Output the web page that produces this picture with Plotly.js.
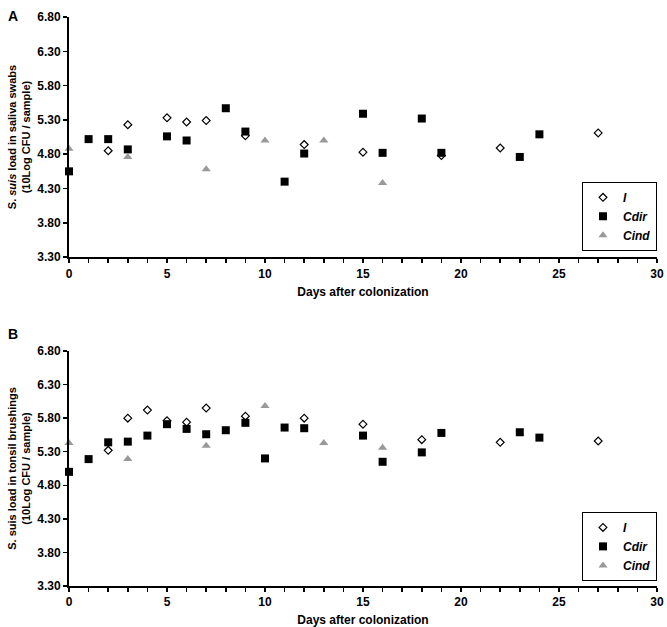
<!DOCTYPE html>
<html>
<head>
<meta charset="utf-8">
<script src="https://cdn.plot.ly/plotly-3.0.1.min.js"></script>
<style>html,body{margin:0;padding:0;background:#fff;}#chart{width:667px;height:627px;}</style>
</head>
<body>
<div id="chart"></div>
<script>
// Panel A: saliva swabs
const aI_days  = [2, 3, 5, 6, 7, 9, 12, 15, 19, 22, 27];
const aI_vals  = [4.85, 5.23, 5.33, 5.27, 5.29, 5.07, 4.94, 4.83, 4.78, 4.89, 5.11];
const aCdir_days = [0, 1, 2, 3, 5, 6, 8, 9, 11, 12, 15, 16, 18, 19, 23, 24];
const aCdir_vals = [4.55, 5.02, 5.02, 4.87, 5.06, 5.00, 5.47, 5.13, 4.40, 4.81, 5.39, 4.82, 5.32, 4.82, 4.76, 5.09];
const aCind_days = [0, 3, 7, 10, 13, 16];
const aCind_vals = [4.88, 4.76, 4.58, 5.00, 5.00, 4.38];
// Panel B: tonsil brushings
const bI_days  = [2, 3, 4, 5, 6, 7, 9, 12, 15, 18, 22, 27];
const bI_vals  = [5.32, 5.80, 5.92, 5.76, 5.74, 5.95, 5.83, 5.80, 5.71, 5.48, 5.44, 5.46];
const bCdir_days = [0, 1, 2, 3, 4, 5, 6, 7, 8, 9, 10, 11, 12, 15, 16, 18, 19, 23, 24];
const bCdir_vals = [5.00, 5.19, 5.44, 5.45, 5.54, 5.71, 5.64, 5.56, 5.62, 5.73, 5.20, 5.66, 5.65, 5.54, 5.15, 5.29, 5.58, 5.59, 5.51];
const bCind_days = [0, 3, 7, 10, 13, 16];
const bCind_vals = [5.43, 5.19, 5.39, 5.98, 5.43, 5.36];

const yTickVals = [3.3, 3.8, 4.3, 4.8, 5.3, 5.8, 6.3, 6.8];
const seriesNames = ['<i>I</i>', '<i>Cdir</i>', '<i>Cind</i>'];

const FONT = 'Liberation Sans, Arial, sans-serif';
const mI = {symbol: 'diamond-open', size: 6, color: '#000', line: {width: 1.2, color: '#000'}};
const mC = {symbol: 'square', size: 8, color: '#000'};
const mN = {symbol: 'triangle-up', size: 8, color: '#999'};

function tr(x, y, name, marker, xa, ya, leg) {
  return {x: x, y: y, name: name, type: 'scatter', mode: 'markers', marker: marker,
          xaxis: xa, yaxis: ya, legend: leg, cliponaxis: false};
}

const data = [
  tr(aI_days, aI_vals, seriesNames[0], mI, 'x', 'y', 'legend'),
  tr(aCdir_days, aCdir_vals, seriesNames[1], mC, 'x', 'y', 'legend'),
  tr(aCind_days, aCind_vals, seriesNames[2], mN, 'x', 'y', 'legend'),
  tr(bI_days, bI_vals, seriesNames[0], mI, 'x2', 'y2', 'legend2'),
  tr(bCdir_days, bCdir_vals, seriesNames[1], mC, 'x2', 'y2', 'legend2'),
  tr(bCind_days, bCind_vals, seriesNames[2], mN, 'x2', 'y2', 'legend2')
];

function xax(anchor) {
  return {
    anchor: anchor, range: [0, 30], dtick: 5, tick0: 0,
    showgrid: false, zeroline: false, showline: true, linecolor: '#000', linewidth: 2,
    ticks: 'outside', ticklen: 4, tickwidth: 1.5, tickcolor: '#000',
    minor: {dtick: 1, ticks: 'outside', ticklen: 4, tickwidth: 1.5, tickcolor: '#000', showgrid: false},
    tickfont: {family: FONT, size: 12, color: '#000', weight: 'bold'},
    title: {text: 'Days after colonization', font: {family: FONT, size: 12, color: '#000', weight: 'bold'}, standoff: 8}
  };
}
function yax(anchor, domain, title) {
  return {
    anchor: anchor, domain: domain, range: [3.3, 6.8],
    tickvals: yTickVals, ticktext: yTickVals.map(v => v.toFixed(2)),
    showgrid: false, zeroline: false, showline: true, linecolor: '#000', linewidth: 2,
    ticks: 'outside', ticklen: 4, tickwidth: 1.5, tickcolor: '#000',
    tickfont: {family: FONT, size: 12, color: '#000', weight: 'bold'},
    title: {text: title, font: {family: FONT, size: 11, color: '#000', weight: 'bold'}, standoff: 4}
  };
}
function leg(y) {
  return {x: 1, xanchor: 'right', y: y, yanchor: 'bottom', xref: 'paper', yref: 'paper',
          bgcolor: '#fff', bordercolor: '#000', borderwidth: 1,
          font: {family: FONT, size: 12, color: '#000', weight: 'bold'},
          tracegroupgap: 0, itemwidth: 30};
}

const layout = {
  width: 667, height: 627,
  margin: {l: 69, r: 10, t: 17, b: 41},
  paper_bgcolor: '#fff', plot_bgcolor: '#fff',
  showlegend: true,
  xaxis: xax('y'),
  yaxis: yax('x', [0.578, 1], 'S. <i>suis</i> load in saliva swabs<br>(10Log CFU / sample)'),
  xaxis2: xax('y2'),
  yaxis2: yax('x2', [0, 0.413], 'S. suis load in tonsil brushings<br>(10Log CFU / sample)'),
  legend: leg(0.589),
  legend2: leg(0.009),
  annotations: [
    {text: 'A', xref: 'paper', yref: 'paper', x: -0.107, y: 1.02, xanchor: 'left', yanchor: 'top', showarrow: false,
     font: {family: FONT, size: 14, color: '#000', weight: 'bold'}},
    {text: 'B', xref: 'paper', yref: 'paper', x: -0.107, y: 0.46, xanchor: 'left', yanchor: 'top', showarrow: false,
     font: {family: FONT, size: 14, color: '#000', weight: 'bold'}}
  ]
};

Plotly.newPlot('chart', data, layout, {displayModeBar: false, staticPlot: true});
</script>
</body>
</html>
